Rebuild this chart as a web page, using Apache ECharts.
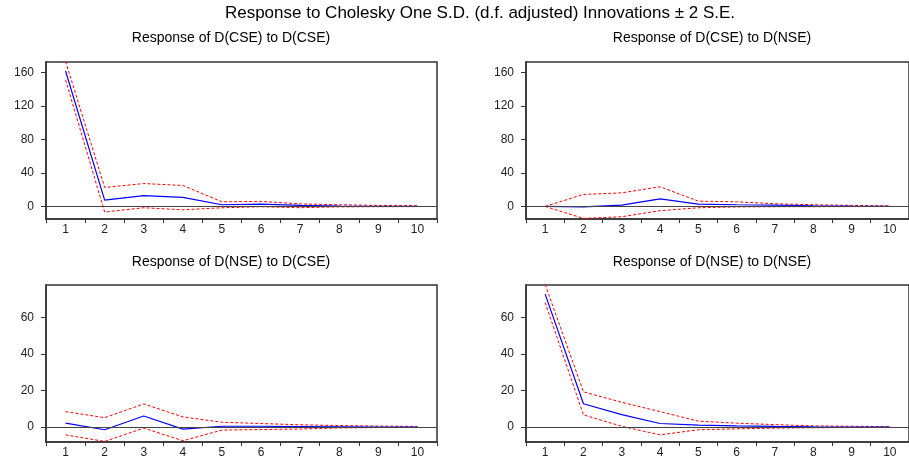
<!DOCTYPE html>
<html>
<head>
<meta charset="utf-8">
<script src="https://cdn.jsdelivr.net/npm/echarts@6/dist/echarts.min.js"></script>
<style>
html,body{margin:0;padding:0;background:#fff;}
#chart{width:909px;height:459px;}
</style>
</head>
<body>
<div id="chart"></div>
<script>
// ---- data ----
var periods = ['1','2','3','4','5','6','7','8','9','10'];

var mainTitle = 'Response to Cholesky One S.D. (d.f. adjusted) Innovations \u00b1 2 S.E.';
var panelTitles = ['Response of D(CSE) to D(CSE)', 'Response of D(CSE) to D(NSE)',
                   'Response of D(NSE) to D(CSE)', 'Response of D(NSE) to D(NSE)'];

// Response of D(CSE) to D(CSE)
var cseCse   = [161.6, 7.5, 13.0, 10.7, 2.0, 2.8, 1.2, 0.5, 0.2, 0.1];
var cseCseUp = [173.0, 22.6, 27.3, 25.0, 5.5, 6.0, 3.0, 2.0, 1.2, 0.8];
var cseCseLo = [151.0, -6.7, -1.6, -4.0, -1.6, -0.4, -1.5, -0.5, -0.3, -0.2];

// Response of D(CSE) to D(NSE)
var cseNse   = [0, -0.5, 1.5, 9.0, 2.8, 2.0, 1.5, 0.8, 0.4, 0.2];
var cseNseUp = [0, 14.3, 16.2, 23.4, 6.3, 5.5, 3.2, 2.0, 1.2, 0.6];
var cseNseLo = [0, -14.3, -12.3, -5.1, -1.6, -0.6, -0.3, -0.3, -0.2, -0.1];

// Response of D(NSE) to D(CSE)
var nseCse   = [2.2, -1.4, 6.1, -1.1, 0.5, 0.5, 0.3, 0.2, 0.1, 0.1];
var nseCseUp = [8.5, 5.2, 12.7, 5.6, 2.7, 2.0, 1.3, 0.9, 0.6, 0.4];
var nseCseLo = [-4.2, -7.8, -0.5, -7.4, -1.6, -1.3, -1.0, -0.4, -0.2, -0.1];

// Response of D(NSE) to D(NSE)
var nseNse   = [72.7, 12.8, 6.9, 2.0, 1.1, 0.7, 0.4, 0.2, 0.1, 0.05];
var nseNseUp = [78.0, 19.3, 13.6, 8.5, 3.3, 2.2, 1.4, 0.7, 0.5, 0.3];
var nseNseLo = [68.1, 6.7, 0.5, -4.2, -1.4, -0.9, -0.5, -0.3, -0.2, -0.1];

var topTicks = [0, 40, 80, 120, 160];
var bottomTicks = [0, 20, 40, 60];
var topRange = [-15, 172.3];
var bottomRange = [-8.1, 77.7];

// ---- layout ----
var grids = [
  {left: 46, top: 62, width: 391, height: 157},
  {left: 526, top: 62, width: 391, height: 157},
  {left: 46, top: 285, width: 391, height: 158},
  {left: 526, top: 285, width: 391, height: 158}
];
var titleCenters = [[231, 31], [712, 31], [231, 255], [712, 255]];
var panels = [
  [cseCse, cseCseUp, cseCseLo, topRange, topTicks],
  [cseNse, cseNseUp, cseNseLo, topRange, topTicks],
  [nseCse, nseCseUp, nseCseLo, bottomRange, bottomTicks],
  [nseNse, nseNseUp, nseNseLo, bottomRange, bottomTicks]
];

var FONT = '"Liberation Sans", Arial, sans-serif';
var option = {
  animation: false,
  backgroundColor: '#fff',
  title: [{
    text: mainTitle, left: 480, top: 5, textAlign: 'center', padding: 0,
    textStyle: {fontFamily: FONT, fontSize: 17, fontWeight: 'normal', color: '#000'}
  }].concat(panelTitles.map(function (t, i) {
    return {
      text: t, left: titleCenters[i][0], top: titleCenters[i][1], textAlign: 'center', padding: 0,
      textStyle: {fontFamily: FONT, fontSize: 14, fontWeight: 'normal', color: '#000'}
    };
  })),
  grid: grids.map(function (g) {
    return Object.assign({show: true, borderColor: '#333', borderWidth: 1.5, backgroundColor: 'transparent'}, g);
  }),
  xAxis: grids.map(function (g, i) {
    return {
      type: 'category', gridIndex: i, data: periods, boundaryGap: true, position: 'bottom',
      axisLine: {onZero: false, lineStyle: {color: '#333', width: 1.5}},
      axisTick: {show: true, inside: false, length: 4, lineStyle: {color: '#333'}},
      axisLabel: {fontFamily: FONT, fontSize: 12, color: '#222', margin: 5},
      splitLine: {show: false}
    };
  }),
  yAxis: panels.map(function (p, i) {
    return {
      type: 'value', gridIndex: i, min: p[3][0], max: p[3][1],
      axisLine: {show: true, onZero: false, lineStyle: {color: '#333', width: 1.5}},
      axisTick: {show: true, inside: false, length: 5, customValues: p[4], lineStyle: {color: '#333'}},
      axisLabel: {fontFamily: FONT, fontSize: 12, color: '#222', margin: 12, customValues: p[4]},
      splitLine: {show: false}
    };
  }),
  series: []
};

panels.forEach(function (p, i) {
  option.series.push({
    type: 'line', xAxisIndex: i, yAxisIndex: i, data: p[1], symbol: 'none',
    lineStyle: {color: '#ff0000', width: 1, type: [3, 2]}, z: 3
  });
  option.series.push({
    type: 'line', xAxisIndex: i, yAxisIndex: i, data: p[2], symbol: 'none',
    lineStyle: {color: '#ff0000', width: 1, type: [3, 2]}, z: 3
  });
  option.series.push({
    type: 'line', xAxisIndex: i, yAxisIndex: i, data: p[0], symbol: 'none',
    lineStyle: {color: '#0000ff', width: 1.2}, z: 4,
    markLine: {
      silent: true, symbol: 'none', label: {show: false},
      lineStyle: {color: '#444', width: 1, type: 'solid'},
      data: [{yAxis: 0}]
    }
  });
});

var chart = echarts.init(document.getElementById('chart'), null, {renderer: 'canvas'});
chart.setOption(option);
</script>
</body>
</html>
